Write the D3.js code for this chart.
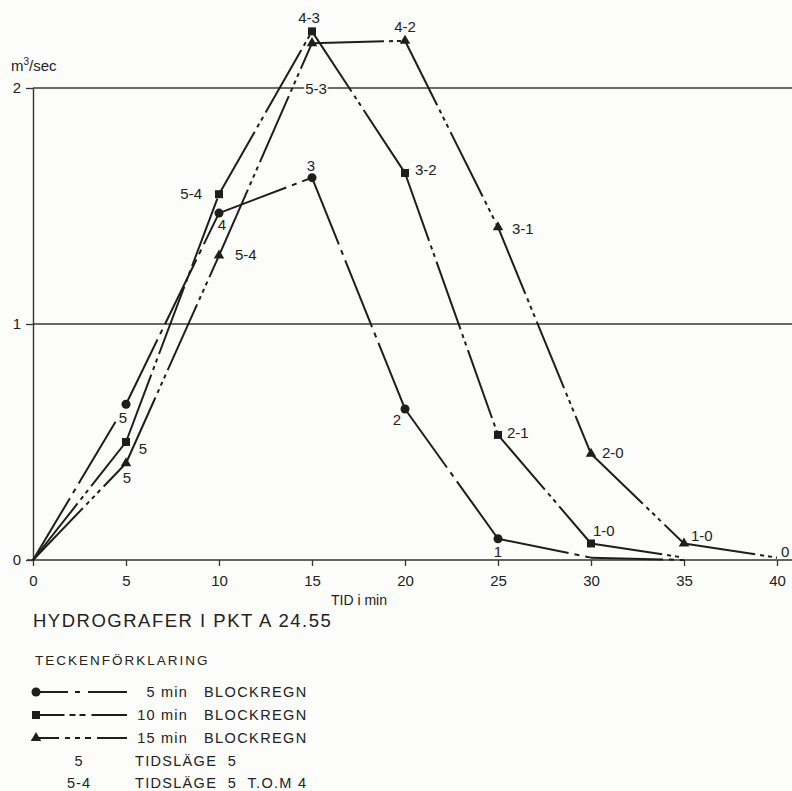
<!DOCTYPE html>
<html>
<head>
<meta charset="utf-8">
<script src="https://cdn.jsdelivr.net/npm/d3@7"></script>
<style>
  html, body { margin: 0; padding: 0; background: #fcfcfb; }
  svg { display: block; }
  text { font-family: "Liberation Sans", Arial, sans-serif; fill: #222; }
</style>
</head>
<body>
<svg id="chart" width="792" height="791"></svg>
<script>
// Time axis (minutes) and discharge (m3/sec) for the three block rains
const times  = [0, 5, 10, 15, 20, 25, 30, 35, 40];
const flow5  = [0, 0.66, 1.47, 1.62, 0.64, 0.09, 0.01, 0, null];
const flow10 = [0, 0.50, 1.55, 2.24, 1.64, 0.53, 0.07, 0.01, null];
const flow15 = [0, 0.41, 1.29, 2.19, 2.20, 1.41, 0.45, 0.07, 0.01];

// Time-position labels ("tidsläge") at each point
const labels5  = [null, "5", "4", "3", "2", "1", null, null, null];
const labels10 = [null, "5", "5-4", "4-3", "3-2", "2-1", "1-0", null, null];
const labels15 = [null, "5", "5-4", "5-3", "4-2", "3-1", "2-0", "1-0", "0"];

const xTicks = [0, 5, 10, 15, 20, 25, 30, 35, 40];
const yTicks = [0, 1, 2];
const gridValues = [1, 2];

const seriesNames = ["5 min", "10 min", "15 min"];
const legendWord = "BLOCKREGN";
const explainRows = [["5", "TIDSLÄGE  5"], ["5-4", "TIDSLÄGE  5  T.O.M 4"]];
const title = "HYDROGRAFER  I  PKT  A 24.55";
const legendTitle = "TECKENFÖRKLARING";
const xTitle = "TID i min";

// ---- styling ----
const ink = "#1e1e1e";
const bg = "#fcfcfb";
// dash groups (gap, dash, gap, ...) placed between long solid strokes
const dashGroups = [[6, 5, 6], [5, 4, 4, 4, 5], [5, 4, 4, 4, 4, 4, 5]];
const legendGroups = [[7, 5, 8], [5, 6, 4, 6, 6], [6, 5, 5, 5, 5, 6, 6]];
const symbols = [d3.symbolCircle, d3.symbolSquare, d3.symbolTriangle];
const symbolSizes = [64, 64, 48];
// label placement relative to its point: [dx, dy, anchor]
const labelPlace = [
  [null, [-3, 19, "middle"], [3, 17, "middle"], [-1, -7, "middle"], [-8, 16, "middle"], [0, 18, "middle"], null, null, null],
  [null, [17, 12, "middle"], [-17, 5, "end"], [-3, -8, "middle"], [10, 2, "start"], [9, 3, "start"], [2, -7, "start"], null, null],
  [null, [1, 20, "middle"], [16, 4, "start"], [4, 51, "middle"], [0, -9, "middle"], [14, 7, "start"], [11, 4, "start"], [7, -2, "start"], [4, -1, "start"]]
];

const svg = d3.select("#chart");
const x = d3.scaleLinear().domain([0, 40]).range([33, 777]);
const y = d3.scaleLinear().domain([0, 2]).range([560, 88]);

// grid lines at 1 and 2
svg.append("g").selectAll("line").data(gridValues).join("line")
  .attr("x1", x(0)).attr("x2", 792)
  .attr("y1", d => y(d)).attr("y2", d => y(d))
  .attr("stroke", "#3a3a3a").attr("stroke-width", 1.3);

// baseline
svg.append("line")
  .attr("x1", x(0) - 6).attr("x2", 792)
  .attr("y1", y(0)).attr("y2", y(0))
  .attr("stroke", "#333").attr("stroke-width", 1.6);

// x axis
const xAxis = svg.append("g").attr("transform", `translate(0,${y(0)})`)
  .call(d3.axisBottom(x).tickValues(xTicks).tickSize(6).tickPadding(9).tickSizeOuter(0));
xAxis.select(".domain").remove();
xAxis.selectAll(".tick line").attr("stroke", "#333").attr("stroke-width", 1.3);
xAxis.selectAll(".tick text").attr("font-size", 15).attr("fill", "#222")
  .attr("font-family", "Liberation Sans, Arial, sans-serif");

// y axis
const yAxis = svg.append("g").attr("transform", `translate(${x(0)},0)`)
  .call(d3.axisLeft(y).tickValues(yTicks).tickFormat(d3.format("d")).tickSize(7).tickPadding(5).tickSizeOuter(0));
yAxis.select(".domain").attr("stroke", "#333").attr("stroke-width", 1.4);
yAxis.selectAll(".tick line").attr("stroke", "#333").attr("stroke-width", 1.3);
yAxis.selectAll(".tick text").attr("font-size", 15).attr("fill", "#222")
  .attr("font-family", "Liberation Sans, Arial, sans-serif");

// unit label
const unit = svg.append("text").attr("x", 11).attr("y", 71).attr("font-size", 15);
unit.append("tspan").text("m");
unit.append("tspan").attr("font-size", 10).attr("dy", -6).text("3");
unit.append("tspan").attr("dy", 6).text("/sec");

// x title
svg.append("text").attr("x", 331).attr("y", 605).attr("font-size", 14).text(xTitle);

// dash array for one segment: long solid, then a group of short dashes, repeated
function dashFor(group, long) { return [long, ...group].join(","); }

const allSeries = [flow5, flow10, flow15];
const allLabels = [labels5, labels10, labels15];

allSeries.forEach((vals, si) => {
  const pts = times.map((t, i) => ({ t, v: vals[i], i })).filter(p => p.v !== null);
  const g = svg.append("g");
  // one line per segment so each starts solid at its point
  const segs = d3.pairs(pts);
  g.selectAll("line").data(segs).join("line")
    .attr("x1", d => x(d[0].t)).attr("y1", d => y(d[0].v))
    .attr("x2", d => x(d[1].t)).attr("y2", d => y(d[1].v))
    .attr("stroke", ink).attr("stroke-width", 2)
    .attr("stroke-dasharray", dashFor(dashGroups[si], 72));
});

// labels (with a paper-coloured halo) then markers
allSeries.forEach((vals, si) => {
  const labs = allLabels[si];
  const pts = times.map((t, i) => ({ t, v: vals[i], i, lab: labs[i], pl: labelPlace[si][i] }))
    .filter(p => p.v !== null && p.lab !== null);
  svg.append("g").selectAll("text").data(pts).join("text")
    .attr("x", d => x(d.t) + d.pl[0])
    .attr("y", d => y(d.v) + d.pl[1])
    .attr("text-anchor", d => d.pl[2])
    .attr("font-size", 15)
    .attr("stroke", bg).attr("stroke-width", 4).attr("paint-order", "stroke")
    .text(d => d.lab);
});

allSeries.forEach((vals, si) => {
  const labs = allLabels[si];
  const pts = times.map((t, i) => ({ t, v: vals[i], lab: labs[i] }))
    .filter(p => p.v !== null && p.lab !== null && p.v > 0.03);
  svg.append("g").selectAll("path").data(pts).join("path")
    .attr("transform", d => `translate(${x(d.t)},${y(d.v)})`)
    .attr("d", d3.symbol(symbols[si], symbolSizes[si]))
    .attr("fill", ink);
});

// title and legend
svg.append("text").attr("x", 33).attr("y", 627).attr("font-size", 18.5)
  .attr("letter-spacing", 1.5).attr("fill", "#2a2a2a").text(title);
svg.append("text").attr("x", 35).attr("y", 665).attr("font-size", 13.5)
  .attr("letter-spacing", 2).text(legendTitle);

const rowY = [692, 715, 738, 761, 783];
seriesNames.forEach((name, si) => {
  const yy = rowY[si];
  const grp = legendGroups[si];
  const glen = d3.sum(grp);
  const x0 = 36, x1 = 127, gc = 78;
  const first = gc - glen / 2 - x0;
  svg.append("line").attr("x1", x0).attr("x2", x1).attr("y1", yy).attr("y2", yy)
    .attr("stroke", ink).attr("stroke-width", 2)
    .attr("stroke-dasharray", [first, ...grp, 200].join(","));
  svg.append("path").attr("transform", `translate(${x0},${yy})`)
    .attr("d", d3.symbol(symbols[si], symbolSizes[si])).attr("fill", ink);
  svg.append("text").attr("x", 188).attr("y", yy + 5).attr("text-anchor", "end")
    .attr("font-size", 14.5).attr("letter-spacing", 1.2).text(name);
  svg.append("text").attr("x", 204).attr("y", yy + 5)
    .attr("font-size", 14.5).attr("letter-spacing", 1.4).text(legendWord);
});
explainRows.forEach((row, k) => {
  const yy = rowY[3 + k];
  svg.append("text").attr("x", 79).attr("y", yy + 5).attr("text-anchor", "middle")
    .attr("font-size", 14.5).attr("letter-spacing", 1).text(row[0]);
  svg.append("text").attr("x", 135).attr("y", yy + 5)
    .attr("font-size", 14.5).attr("letter-spacing", 1.3)
    .style("white-space", "pre").text(row[1]);
});
</script>
</body>
</html>
